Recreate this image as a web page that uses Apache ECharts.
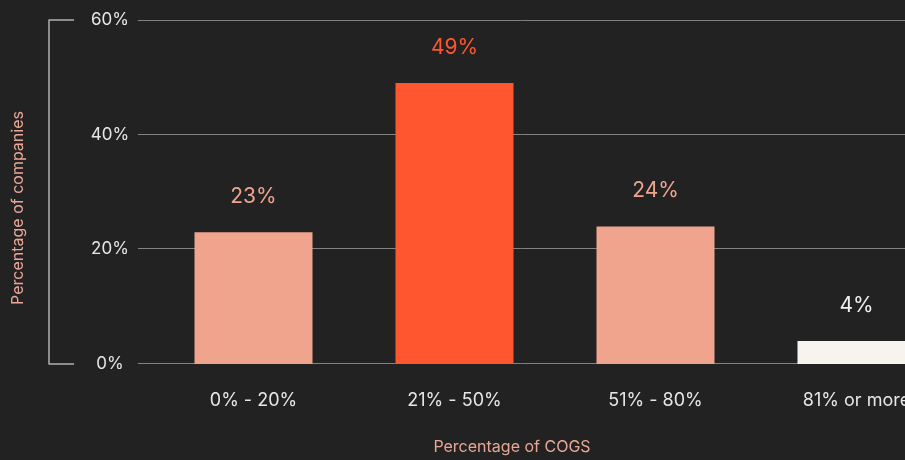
<!DOCTYPE html>
<html>
<head>
<meta charset="utf-8">
<script src="https://cdn.jsdelivr.net/npm/echarts@6/dist/echarts.min.js"></script>
<style>
  html, body { margin: 0; padding: 0; background: #222222; }
  #chart { width: 905px; height: 460px; }
</style>
</head>
<body>
<div id="chart"></div>
<script>
// Share of companies by COGS bracket
const categories = ['0% - 20%', '21% - 50%', '51% - 80%', '81% or more'];
const shares = [23, 49, 24, 4];
const barColors = ['#f0a48e', '#ff5630', '#f0a48e', '#f7f3ee'];
const labelColors = ['#f0a48e', '#ff5630', '#f0a48e', '#f2f0ec'];
const yTicks = [0, 20, 40, 60];

const FONT = 'Inter';
const yMin = yTicks[0], yMax = yTicks[yTicks.length - 1], yStep = yTicks[1] - yTicks[0];

const chart = echarts.init(document.getElementById('chart'));
chart.setOption({
  backgroundColor: '#222222',
  animation: false,
  grid: [
    // bars (the last band runs past the right edge)
    { left: 153, right: -52, top: 20, bottom: 96, outerBoundsMode: 'none', containLabel: false },
    // horizontal guide lines
    { left: 138, right: 0, top: 20, bottom: 96 },
    // bracket on the left
    { left: 49, width: 1, top: 20, bottom: 96 }
  ],
  xAxis: [
    {
      gridIndex: 0, type: 'category', data: categories,
      axisLine: { show: false }, axisTick: { show: false },
      axisLabel: { color: '#e6e6e6', fontFamily: FONT, fontSize: 18, margin: 28 }
    },
    {
      gridIndex: 1, type: 'value', min: 0, max: 1,
      axisLine: { show: false }, axisTick: { show: false },
      axisLabel: { show: false }, splitLine: { show: false },
      name: 'Percentage of COGS', nameLocation: 'middle', nameGap: 76,
      nameTextStyle: { color: '#e8a796', fontFamily: FONT, fontSize: 16, padding: [0, 19, 0, 0] }
    },
    { gridIndex: 2, type: 'value', show: false }
  ],
  yAxis: [
    {
      gridIndex: 0, type: 'value', min: yMin, max: yMax, interval: yStep,
      axisLine: { show: false }, axisTick: { show: false }, splitLine: { show: false },
      axisLabel: {
        color: '#e6e6e6', fontFamily: FONT, fontSize: 17, align: 'center',
        margin: 43, padding: [0, 0, 7, 0], formatter: v => v + '%'
      }
    },
    {
      gridIndex: 1, type: 'value', min: yMin, max: yMax, interval: yStep,
      axisLine: { show: false }, axisTick: { show: false }, axisLabel: { show: false },
      splitLine: { show: true, lineStyle: { color: '#838383', width: 1 } }
    },
    {
      gridIndex: 2, type: 'value', min: yMin, max: yMax, interval: yMax - yMin,
      axisLine: { show: true, lineStyle: { color: '#b0b0b0', width: 1.5 } },
      axisTick: { show: true, inside: true, length: 25, lineStyle: { color: '#b0b0b0', width: 1.5 } },
      axisLabel: { show: false }, splitLine: { show: false },
      name: 'Percentage of companies', nameLocation: 'middle', nameGap: 23,
      nameTextStyle: { color: '#e8a796', fontFamily: FONT, fontSize: 16, padding: [0, 32, 0, 0] }
    }
  ],
  series: [{
    type: 'bar',
    xAxisIndex: 0, yAxisIndex: 0,
    barWidth: 118,
    data: shares.map((v, i) => ({
      value: v,
      itemStyle: { color: barColors[i] },
      label: { color: labelColors[i] }
    })),
    label: {
      show: true, position: 'top', distance: 25,
      fontFamily: FONT, fontSize: 21,
      formatter: p => p.value + '%'
    }
  }]
});
</script>
</body>
</html>
